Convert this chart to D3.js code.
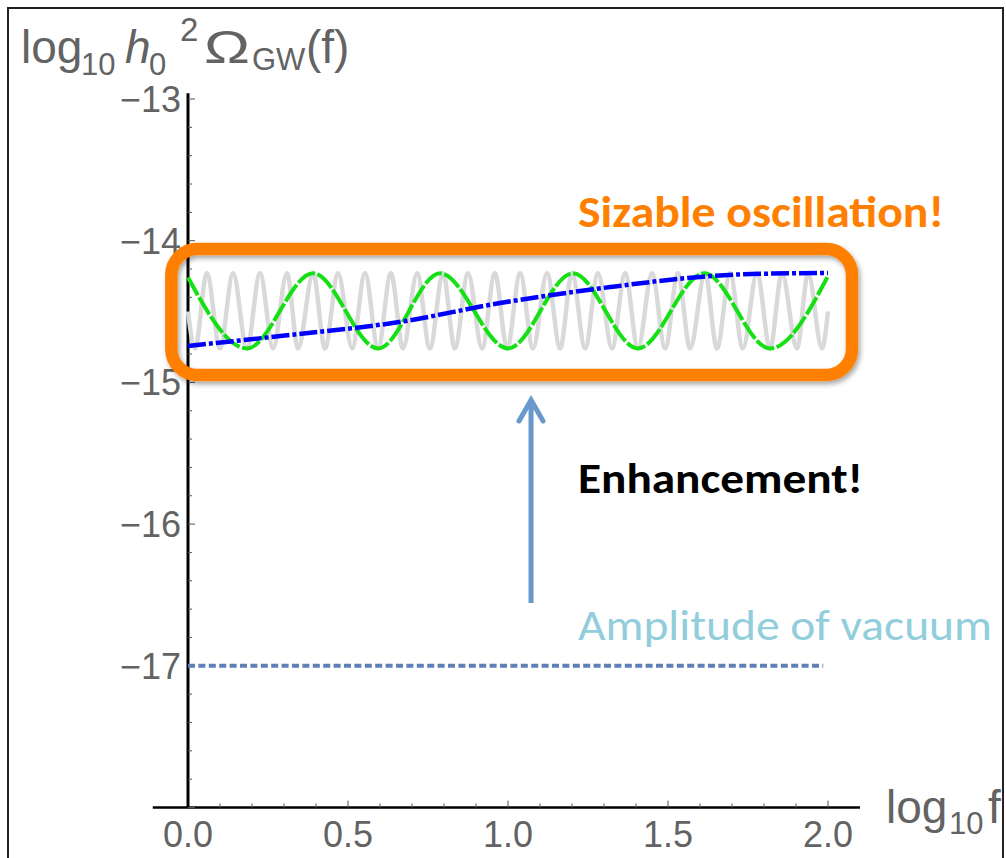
<!DOCTYPE html>
<html>
<head>
<meta charset="utf-8">
<script src="https://cdn.jsdelivr.net/npm/d3@7"></script>
<style>
  body { margin: 0; background: #fff; }
  svg { display: block; }
</style>
</head>
<body>
<div id="chart"></div>
<script>
// Tick labels
const xTicks = [0, 0.5, 1.0, 1.5, 2.0];
const yTicks = [-17, -16, -15, -14, -13];

// Fast oscillation (gray) at its turning points
const grayX = [0, 0.022, 0.059, 0.100, 0.141, 0.184, 0.225, 0.266, 0.309, 0.344, 0.391,
  0.428, 0.469, 0.513, 0.553, 0.594, 0.634, 0.672, 0.716, 0.756, 0.797, 0.834, 0.875,
  0.919, 0.959, 0.997, 1.038, 1.078, 1.122, 1.163, 1.200, 1.241, 1.281, 1.325, 1.366,
  1.406, 1.450, 1.491, 1.531, 1.569, 1.616, 1.653, 1.694, 1.734, 1.778, 1.819, 1.856,
  1.903, 1.938, 1.981, 2.0];
const grayY = [-14.50, -14.76, -14.23, -14.76, -14.23, -14.76, -14.23, -14.76, -14.23,
  -14.76, -14.23, -14.76, -14.23, -14.76, -14.23, -14.76, -14.23, -14.76, -14.23, -14.76,
  -14.23, -14.76, -14.23, -14.76, -14.23, -14.76, -14.23, -14.76, -14.23, -14.76, -14.23,
  -14.76, -14.23, -14.76, -14.23, -14.76, -14.23, -14.76, -14.23, -14.76, -14.23, -14.76,
  -14.23, -14.76, -14.23, -14.76, -14.23, -14.76, -14.23, -14.76, -14.50];

// Slow oscillation (green, dashed)
const greenX = [0, 0.184, 0.391, 0.594, 0.788, 1.0, 1.203, 1.406, 1.613, 1.819, 2.0];
const greenY = [-14.26, -14.76, -14.23, -14.76, -14.23, -14.76, -14.23, -14.76, -14.23, -14.76, -14.25];

// Envelope (blue, dash-dot)
const blueX = [0, 0.32, 0.66, 0.975, 1.32, 1.6, 1.76, 2.0];
const blueY = [-14.743, -14.665, -14.574, -14.44, -14.327, -14.256, -14.235, -14.228];

// Vacuum amplitude level
const vacuumLevel = -17;

const width = 1006;
const height = 858;

const x = d3.scaleLinear().domain([0, 2]).range([188, 828]);
const y = d3.scaleLinear().domain([-18, -13]).range([807.5, 99]);

const svg = d3.select("#chart")
  .append("svg")
  .attr("width", width)
  .attr("height", height);

// drop shadow for the highlight box
const defs = svg.append("defs");
defs.append("filter")
  .attr("id", "shadow")
  .attr("x", "-10%").attr("y", "-20%")
  .attr("width", "120%").attr("height", "150%")
  .append("feDropShadow")
  .attr("dx", 2).attr("dy", 3)
  .attr("stdDeviation", 2.5)
  .attr("flood-color", "#000")
  .attr("flood-opacity", 0.35);

// outer frame
svg.append("rect")
  .attr("x", 8).attr("y", 8)
  .attr("width", 995).attr("height", 900)
  .attr("fill", "none")
  .attr("stroke", "#222")
  .attr("stroke-width", 2);

const axisColor = "#000";
const labelColor = "#636363";
const tickFont = "'Liberation Sans', Arial, sans-serif";

// x axis line + ticks
svg.append("line")
  .attr("x1", x(-0.11)).attr("x2", x(2.1))
  .attr("y1", y(-18)).attr("y2", y(-18))
  .attr("stroke", axisColor).attr("stroke-width", 2.5);

const xMinor = d3.range(0, 2.05, 0.1);
svg.append("g").selectAll("line")
  .data(xMinor)
  .join("line")
  .attr("x1", d => x(d)).attr("x2", d => x(d))
  .attr("y1", y(-18))
  .attr("y2", (d, i) => y(-18) - (i % 5 === 0 ? 7 : 4))
  .attr("stroke", "#555").attr("stroke-width", 1);

svg.append("g").selectAll("text")
  .data(xTicks)
  .join("text")
  .attr("x", d => x(d))
  .attr("y", 847)
  .attr("text-anchor", "middle")
  .attr("font-family", tickFont)
  .attr("font-size", 36)
  .attr("fill", labelColor)
  .text(d => d3.format(".1f")(d));

// y axis line + ticks
svg.append("line")
  .attr("x1", x(0)).attr("x2", x(0))
  .attr("y1", y(-12.96)).attr("y2", y(-18))
  .attr("stroke", axisColor).attr("stroke-width", 3);

const yMinor = d3.range(-18, -12.95, 0.2);
svg.append("g").selectAll("line")
  .data(yMinor)
  .join("line")
  .attr("x1", x(0))
  .attr("x2", (d, i) => x(0) + (i % 5 === 0 ? 7 : 4))
  .attr("y1", d => y(d)).attr("y2", d => y(d))
  .attr("stroke", "#555").attr("stroke-width", 1);

svg.append("g").selectAll("text")
  .data(yTicks)
  .join("text")
  .attr("x", x(0) - 7)
  .attr("y", d => y(d))
  .attr("dy", "0.36em")
  .attr("text-anchor", "end")
  .attr("font-family", tickFont)
  .attr("font-size", 36)
  .attr("fill", labelColor)
  .text(d => "\u2212" + Math.abs(d));

// y axis title: log10 h0^2 Ω_GW(f)
const yTitle = svg.append("g")
  .attr("font-family", tickFont)
  .attr("fill", labelColor);
yTitle.append("text").attr("x", 21).attr("y", 63).attr("font-size", 46).text("log");
yTitle.append("text").attr("x", 81).attr("y", 75).attr("font-size", 31).text("10");
yTitle.append("text").attr("x", 125).attr("y", 63).attr("font-size", 46).attr("font-style", "italic").text("h");
yTitle.append("text").attr("x", 149).attr("y", 75).attr("font-size", 31).text("0");
yTitle.append("text").attr("x", 180).attr("y", 41).attr("font-size", 33).text("2");
yTitle.append("text").attr("x", 204).attr("y", 63).attr("font-size", 47)
  .attr("textLength", 46).attr("lengthAdjust", "spacingAndGlyphs").text("\u03A9");
yTitle.append("text").attr("x", 252).attr("y", 70).attr("font-size", 31).text("GW");
yTitle.append("text").attr("x", 306).attr("y", 63).attr("font-size", 46).text("(f)");

// x axis title: log10 f
const xTitle = svg.append("text")
  .attr("font-family", tickFont)
  .attr("fill", labelColor);
xTitle.append("tspan").attr("x", 886).attr("y", 823).attr("font-size", 46).text("log");
xTitle.append("tspan").attr("x", 949).attr("y", 834).attr("font-size", 31).text("10");
xTitle.append("tspan").attr("x", 988).attr("y", 823).attr("font-size", 46).text("f");

// vacuum level
svg.append("line")
  .attr("x1", x(0)).attr("x2", x(1.985))
  .attr("y1", y(vacuumLevel)).attr("y2", y(vacuumLevel))
  .attr("stroke", "#5f80b6")
  .attr("stroke-width", 4)
  .attr("stroke-dasharray", "7,3.4");

// curves
const line = d3.line()
  .x(d => x(d[0]))
  .y(d => y(d[1]))
  .curve(d3.curveMonotoneX);

svg.append("path")
  .attr("d", line(d3.zip(grayX, grayY)))
  .attr("fill", "none")
  .attr("stroke", "#d9d9d9")
  .attr("stroke-width", 4.5);

svg.append("path")
  .attr("d", line(d3.zip(greenX, greenY)))
  .attr("fill", "none")
  .attr("stroke", "#14e014")
  .attr("stroke-width", 4)
  .attr("stroke-dasharray", "20,2.5");

svg.append("path")
  .attr("d", line(d3.zip(blueX, blueY)))
  .attr("fill", "none")
  .attr("stroke", "#0000ff")
  .attr("stroke-width", 4.5)
  .attr("stroke-dasharray", "18,3,4,3");

// highlight box
svg.append("rect")
  .attr("x", x(-0.052))
  .attr("y", y(-14.059))
  .attr("width", x(2.075) - x(-0.052))
  .attr("height", y(-14.948) - y(-14.059))
  .attr("rx", 26).attr("ry", 26)
  .attr("fill", "none")
  .attr("stroke", "#ff7f00")
  .attr("stroke-width", 12.5)
  .attr("filter", "url(#shadow)");

// arrow
const arrowX = x(1.072);
const arrowTip = y(-15.124);
svg.append("line")
  .attr("x1", arrowX).attr("x2", arrowX)
  .attr("y1", y(-16.557)).attr("y2", arrowTip + 2)
  .attr("stroke", "#6898cc").attr("stroke-width", 5);
svg.append("polyline")
  .attr("points", [[arrowX - 12, arrowTip + 21], [arrowX, arrowTip], [arrowX + 12, arrowTip + 21]].join(" "))
  .attr("fill", "none")
  .attr("stroke", "#6898cc").attr("stroke-width", 5)
  .attr("stroke-linecap", "round").attr("stroke-linejoin", "miter");

// annotations
const noteFont = "Carlito, Lato, 'Open Sans', sans-serif";
svg.append("text")
  .attr("x", 578).attr("y", 227)
  .attr("font-family", noteFont)
  .attr("font-weight", 700)
  .attr("font-size", 44)
  .attr("fill", "#ff7f00")
  .attr("textLength", 366)
  .attr("lengthAdjust", "spacingAndGlyphs")
  .text("Sizable oscillation!");

svg.append("text")
  .attr("x", 578).attr("y", 493)
  .attr("font-family", noteFont)
  .attr("font-weight", 700)
  .attr("font-size", 43)
  .attr("fill", "#000")
  .attr("textLength", 285)
  .attr("lengthAdjust", "spacingAndGlyphs")
  .text("Enhancement!");

svg.append("text")
  .attr("x", 578).attr("y", 640)
  .attr("font-family", noteFont)
  .attr("font-size", 43)
  .attr("fill", "#92cddc")
  .attr("textLength", 414)
  .attr("lengthAdjust", "spacingAndGlyphs")
  .text("Amplitude of vacuum");
</script>
</body>
</html>
